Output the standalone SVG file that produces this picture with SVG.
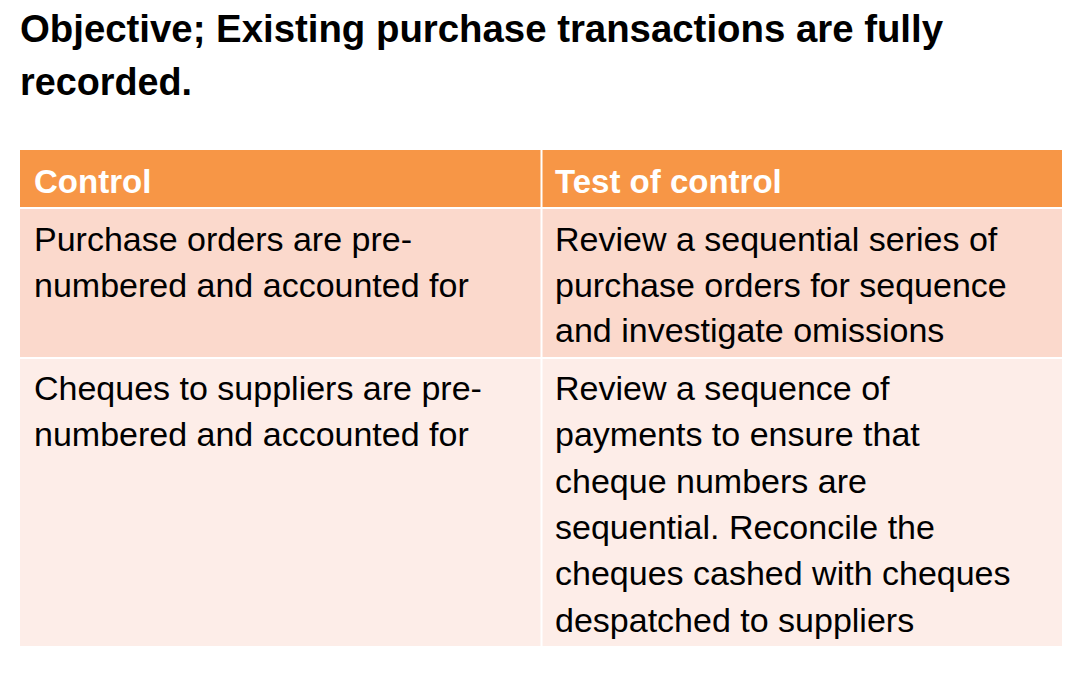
<svg xmlns="http://www.w3.org/2000/svg" width="1076" height="676" viewBox="0 0 1076 676">
<style>
.t{font-family:"Liberation Sans",Arial,sans-serif;font-size:38px;font-weight:bold;fill:#000}
.c{font-family:"Liberation Sans",Arial,sans-serif;font-size:34px;fill:#000}
.h{font-family:"Liberation Sans",Arial,sans-serif;font-size:33px;font-weight:bold;fill:#fff}
</style>
<rect width="1076" height="676" fill="#fff"/>
<text class="t" x="20" y="42" textLength="923" lengthAdjust="spacingAndGlyphs">Objective; Existing purchase transactions are fully</text>
<text class="t" x="20" y="95" textLength="172" lengthAdjust="spacingAndGlyphs">recorded.</text>
<g id="table">
<rect x="20" y="150" width="1042" height="57" fill="#F79646"/>
<rect x="20" y="209" width="1042" height="148" fill="#FBD9CC"/>
<rect x="20" y="359" width="1042" height="287" fill="#FDEDE8"/>
<line x1="541.5" y1="150" x2="541.5" y2="646" stroke="#fff" stroke-width="2"/>
</g>
<g id="header">
<text class="h" x="34" y="193">Control</text>
<text class="h" x="555" y="193">Test of control</text>
</g>
<g id="row1">
<text class="c" x="34" y="251">Purchase orders are pre-</text>
<text class="c" x="34" y="297">numbered and accounted for</text>
<text class="c" x="555" y="251">Review a sequential series of</text>
<text class="c" x="555" y="297">purchase orders for sequence</text>
<text class="c" x="555" y="342">and investigate omissions</text>
</g>
<g id="row2">
<text class="c" x="34" y="400">Cheques to suppliers are pre-</text>
<text class="c" x="34" y="446">numbered and accounted for</text>
<text class="c" x="555" y="400">Review a sequence of</text>
<text class="c" x="555" y="446">payments to ensure that</text>
<text class="c" x="555" y="493">cheque numbers are</text>
<text class="c" x="555" y="539">sequential.  Reconcile the</text>
<text class="c" x="555" y="585">cheques cashed with cheques</text>
<text class="c" x="555" y="632">despatched to suppliers</text>
</g>
</svg>
